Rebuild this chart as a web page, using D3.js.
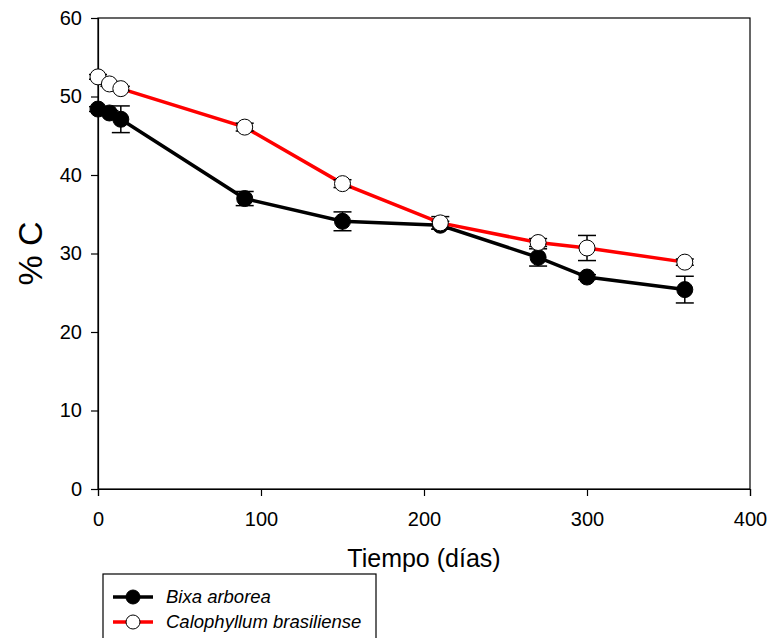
<!DOCTYPE html>
<html>
<head>
<meta charset="utf-8">
<script src="https://cdn.jsdelivr.net/npm/d3@7"></script>
<style>
  body { margin: 0; background: #fff; }
  svg { font-family: "Liberation Sans", Arial, sans-serif; }
</style>
</head>
<body>
<div id="chart"></div>
<script>
// days sampled
const days = [0, 7, 14, 90, 150, 210, 270, 300, 360];

// % C, Bixa arborea
const bixaMean = [48.4, 47.9, 47.1, 37.0, 34.1, 33.6, 29.5, 27.0, 25.4];
const bixaErr  = [0.3, 0.3, 1.7, 0.9, 1.2, 0.5, 1.1, 0.3, 1.7];

// % C, Calophyllum brasiliense
const caloMean = [52.5, 51.6, 51.0, 46.1, 38.9, 33.9, 31.4, 30.7, 28.9];
const caloErr  = [0.3, 0.3, 0.3, 0.5, 0.5, 0.8, 0.5, 1.6, 0.4];

const xTicks = [0, 100, 200, 300, 400];
const yTicks = [0, 10, 20, 30, 40, 50, 60];

const width = 771, height = 638;
const margin = { left: 98, right: 21, top: 18, bottom: 149 };

const svg = d3.select('#chart')
  .append('svg')
  .attr('width', width)
  .attr('height', height);

const x = d3.scaleLinear().domain([0, 400]).range([margin.left, width - margin.right]);
const y = d3.scaleLinear().domain([0, 60]).range([height - margin.bottom, margin.top]);

// frame
svg.append('rect')
  .attr('x', x(0)).attr('y', y(60))
  .attr('width', x(400) - x(0)).attr('height', y(0) - y(60))
  .attr('fill', 'none').attr('stroke', '#000').attr('stroke-width', 1.2);

// axes
const xAxis = svg.append('g')
  .attr('transform', `translate(0,${y(0)})`)
  .call(d3.axisBottom(x).tickValues(xTicks).tickSize(7).tickPadding(16).tickFormat(d3.format('d')));
const yAxis = svg.append('g')
  .attr('transform', `translate(${x(0)},0)`)
  .call(d3.axisLeft(y).tickValues(yTicks).tickSize(7).tickPadding(9).tickFormat(d3.format('d')));

[xAxis, yAxis].forEach(g => {
  g.select('.domain').attr('stroke-width', 1.2);
  g.selectAll('.tick line').attr('stroke-width', 1.2);
  g.selectAll('text')
    .style('font-size', '20px')
    .style('font-family', '"Liberation Sans", Arial, sans-serif')
    .attr('fill', '#000');
});

// axis titles
svg.append('text')
  .attr('x', (x(0) + x(400)) / 2)
  .attr('y', 567)
  .attr('text-anchor', 'middle')
  .style('font-size', '25px')
  .text('Tiempo (días)');

svg.append('text')
  .attr('transform', `translate(42,${(y(0) + y(60)) / 2}) rotate(-90)`)
  .attr('text-anchor', 'middle')
  .style('font-size', '34px')
  .text('% C');

const series = [
  { name: 'Bixa arborea', mean: bixaMean, err: bixaErr, line: '#000', fill: '#000' },
  { name: 'Calophyllum brasiliense', mean: caloMean, err: caloErr, line: '#ff0000', fill: '#fff' }
];

const r = 8, cap = 9;

series.forEach(s => {
  const pts = days.map((d, i) => ({ d, m: s.mean[i], e: s.err[i] }));
  const g = svg.append('g');

  g.append('path')
    .datum(pts)
    .attr('fill', 'none')
    .attr('stroke', s.line)
    .attr('stroke-width', 3.5)
    .attr('d', d3.line().x(p => x(p.d)).y(p => y(p.m)));

  // error bars
  const eb = g.selectAll('g.err').data(pts).enter().append('g').attr('class', 'err');
  eb.append('line')
    .attr('x1', p => x(p.d)).attr('x2', p => x(p.d))
    .attr('y1', p => y(p.m + p.e)).attr('y2', p => y(p.m - p.e))
    .attr('stroke', '#000').attr('stroke-width', 1.5);
  [1, -1].forEach(sg => {
    eb.append('line')
      .attr('x1', p => x(p.d) - cap).attr('x2', p => x(p.d) + cap)
      .attr('y1', p => y(p.m + sg * p.e)).attr('y2', p => y(p.m + sg * p.e))
      .attr('stroke', '#000').attr('stroke-width', 1.5);
  });

  g.selectAll('circle').data(pts).enter().append('circle')
    .attr('cx', p => x(p.d)).attr('cy', p => y(p.m))
    .attr('r', r)
    .attr('fill', s.fill)
    .attr('stroke', '#000').attr('stroke-width', 1);
});

// legend (bottom edge runs off the page, as in the original)
const lg = svg.append('g');
lg.append('rect')
  .attr('x', 103).attr('y', 574).attr('width', 273).attr('height', 80)
  .attr('fill', '#fff').attr('stroke', '#000').attr('stroke-width', 1.2);

series.forEach((s, i) => {
  const ly = 597 + i * 25;
  lg.append('line')
    .attr('x1', 113).attr('x2', 153).attr('y1', ly).attr('y2', ly)
    .attr('stroke', s.line).attr('stroke-width', 3.5);
  lg.append('circle')
    .attr('cx', 133).attr('cy', ly).attr('r', 7)
    .attr('fill', s.fill).attr('stroke', '#000').attr('stroke-width', 1);
  lg.append('text')
    .attr('x', 166).attr('y', ly + 6)
    .style('font-size', '18.5px')
    .style('font-style', 'italic')
    .text(s.name);
});
</script>
</body>
</html>
